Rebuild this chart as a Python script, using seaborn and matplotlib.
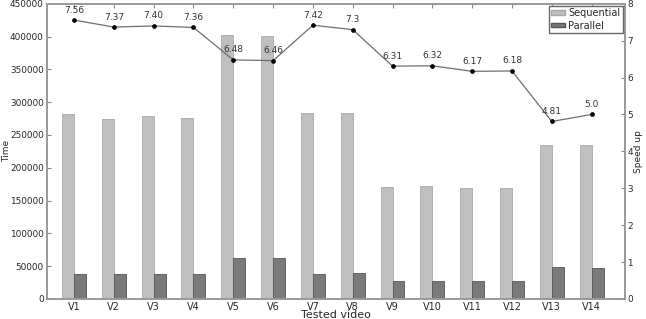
import numpy as np
import pandas as pd
import matplotlib
matplotlib.use("Agg")
import matplotlib.pyplot as plt
import seaborn as sns

# valeurs
videos = ["V1", "V2", "V3", "V4", "V5", "V6", "V7",
          "V8", "V9", "V10", "V11", "V12", "V13", "V14"]
sequential = [282000, 275000, 279000, 276000, 403000, 401000, 284000,
              284000, 170000, 172000, 169000, 169000, 235000, 235000]
parallel = [37300, 37300, 37700, 37500, 62200, 62100, 38300,
            38900, 26900, 27200, 27400, 27300, 48900, 47000]
speedup = [7.56, 7.37, 7.40, 7.36, 6.48, 6.46, 7.42,
           7.3, 6.31, 6.32, 6.17, 6.18, 4.81, 5.0]
speedup_labels = ["7.56", "7.37", "7.40", "7.36", "6.48", "6.46", "7.42",
                  "7.3", "6.31", "6.32", "6.17", "6.18", "4.81", "5.0"]

df = pd.DataFrame({
    "video": videos * 2,
    "time": sequential + parallel,
    "type": ["Sequential"] * len(videos) + ["Parallel"] * len(videos),
})

sns.set_style("white")
plt.rcParams["font.family"] = ["DejaVu Sans"]

fig, ax = plt.subplots(figsize=(6.46, 3.19), dpi=100)
fig.subplots_adjust(left=0.072, right=0.967, top=0.988, bottom=0.063)

sns.barplot(data=df, x="video", y="time", hue="type", order=videos,
            hue_order=["Sequential", "Parallel"],
            palette={"Sequential": "#bfbfbf", "Parallel": "#7a7a7a"},
            width=0.6, saturation=1, ax=ax, legend=False,
            edgecolor="#8c8c8c", linewidth=0.6)
for p, c in zip(ax.patches, ["#a8a8a8"] * 14 + ["#555555"] * 14):
    p.set_edgecolor(c)

ax.set_xlim(-0.69, 13.83)
ax.set_ylim(0, 450000)
ax.set_yticks(np.arange(0, 450001, 50000))
ax.set_xlabel("Tested video", fontsize=8, labelpad=-1)
ax.set_ylabel("Time", fontsize=6.5)
ax.yaxis.set_label_coords(-0.062, 0.5)
ax.tick_params(direction="in", labelsize=6.4, length=3, top=True, color="#888888", pad=2)
ax.tick_params(axis="x", labelsize=7)

ax2 = ax.twinx()
xs = np.arange(len(videos))
sns.lineplot(x=xs, y=speedup, ax=ax2, color="#6e6e6e", linewidth=0.9,
             marker="o", markersize=2.6, markerfacecolor="black",
             markeredgecolor="black")
for x, y, t in zip(xs, speedup, speedup_labels):
    ax2.annotate(t, (x, y), xytext=(0, 4), textcoords="offset points",
                 ha="center", va="bottom", fontsize=6.5, color="#333333")
ax2.set_ylim(0, 8)
ax2.set_ylabel("Speed up", fontsize=6.5)
ax2.yaxis.set_label_coords(1.016, 0.5)
ax2.tick_params(direction="in", labelsize=6.4, length=3, color="#888888", pad=2)

for a in (ax, ax2):
    for s in a.spines.values():
        s.set_color("#999999")
        s.set_linewidth(1.2)

handles = [plt.Rectangle((0, 0), 1, 1, facecolor="#bfbfbf", edgecolor="#a8a8a8"),
           plt.Rectangle((0, 0), 1, 1, facecolor="#7a7a7a", edgecolor="#555555")]
leg = ax2.legend(handles, ["Sequential", "Parallel"], loc="upper right",
                 fontsize=7, handlelength=1.4, handleheight=0.35,
                 borderpad=0.25, labelspacing=0.25, handletextpad=0.35,
                 fancybox=False, framealpha=1, borderaxespad=0.2)
leg.get_frame().set_edgecolor("#666666")

plt.savefig("out.png", dpi=100)
